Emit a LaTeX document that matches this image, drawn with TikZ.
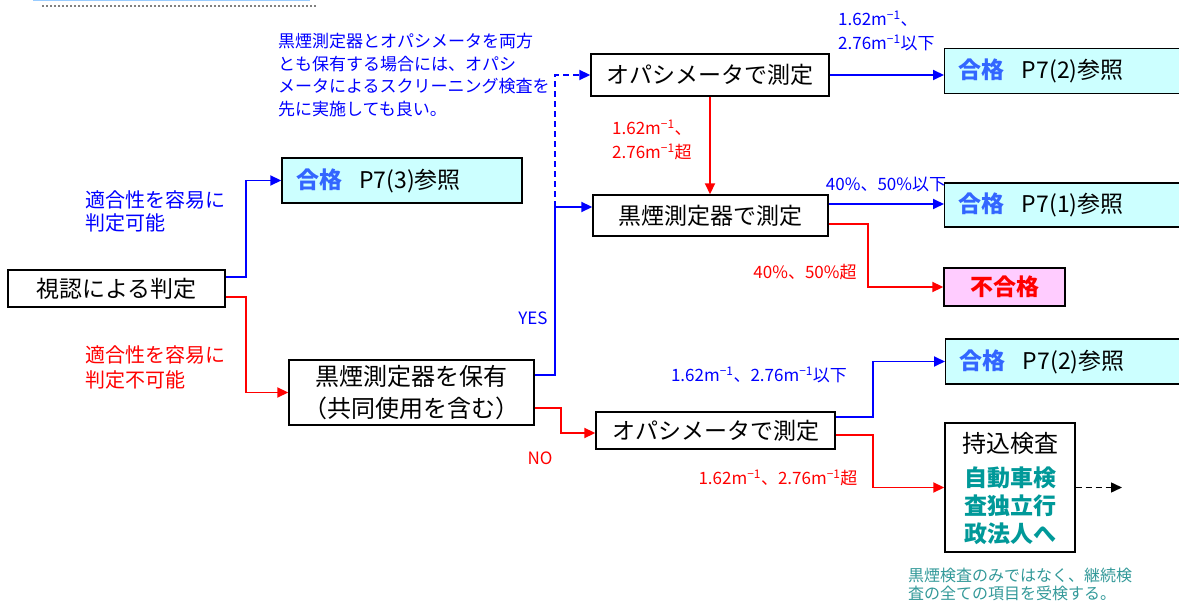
\documentclass[tikz,border=0pt]{standalone}
\usepackage{fontspec}
\setmainfont{Noto Sans CJK JP}
\usetikzlibrary{arrows.meta,calc}
\definecolor{lineblue}{RGB}{0,0,255}
\definecolor{linered}{RGB}{255,0,0}
\definecolor{passfill}{RGB}{204,255,255}
\definecolor{failfill}{RGB}{255,204,255}
\definecolor{gokaku}{RGB}{51,102,255}
\definecolor{tealb}{RGB}{0,153,153}
\definecolor{tealn}{RGB}{51,153,153}
\definecolor{topline}{RGB}{153,204,255}
\tikzset{
  box/.style={draw=black, line width=1.4pt, inner sep=0pt, fill=white, font=\fontsize{23}{28}\selectfont},
  pass/.style={box, fill=passfill, align=left, inner xsep=14pt, inner ysep=0pt},
  bl/.style={draw=lineblue, line width=1.8pt},
  rd/.style={draw=linered, line width=1.8pt},
  tip/.style={-{Triangle[length=11pt,width=10pt]}},
  dsh/.style={dash pattern=on 6pt off 4pt},
  lblb/.style={text=lineblue, font=\fontsize{17}{24}\selectfont, inner sep=0pt},
  lblr/.style={text=linered, font=\fontsize{17}{24}\selectfont, inner sep=0pt},
}
\begin{document}
\begin{tikzpicture}[x=1pt,y=-1pt]
\useasboundingbox (0,0) rectangle (1179,601);
% top artefacts
\draw[topline, line width=2pt] (33,0.5) -- (310,0.5);
\draw[gray, line width=1.5pt, dash pattern=on 1.5pt off 2.5pt] (42,6) -- (318,6);

% nodes
\node[box, minimum width=217pt, minimum height=37pt] (vis) at (116.5,288.5) {視認による判定};
\node[pass, text width=212pt, minimum height=45pt] (p73) at (402,180.5) {\textcolor{gokaku}{\bfseries 合格}\hspace{0.75em}P7(3)参照};
\node[box, minimum width=238pt, minimum height=42pt] (opa1) at (710,75) {オパシメータで測定};
\node[pass, text width=213pt, minimum height=45pt, anchor=west] (p72a) at (944,71) {\textcolor{gokaku}{\bfseries 合格}\hspace{0.75em}P7(2)参照};
\node[box, minimum width=235pt, minimum height=41pt] (smk) at (710.5,215.5) {黒煙測定器で測定};
\node[pass, text width=213pt, minimum height=44pt, anchor=west] (p71) at (944,205) {\textcolor{gokaku}{\bfseries 合格}\hspace{0.75em}P7(1)参照};
\node[box, fill=failfill, minimum width=121pt, minimum height=38pt, font=\fontsize{23}{28}\selectfont\bfseries, text=linered] (fail) at (1004.5,287) {不合格};
\node[box, minimum width=245pt, minimum height=65pt, align=center, font=\fontsize{24}{32}\selectfont] (own) at (411.5,392.5) {黒煙測定器を保有\\（共同使用を含む）};
\node[box, minimum width=239pt, minimum height=37pt] (opa2) at (715.5,430.5) {オパシメータで測定};
\node[pass, text width=213pt, minimum height=45pt, anchor=west] (p72b) at (945,361.5) {\textcolor{gokaku}{\bfseries 合格}\hspace{0.75em}P7(2)参照};
\node[box, minimum width=130pt, minimum height=129pt] (carry) at (1010,487.5) {};
\node[font=\fontsize{24}{28}\selectfont, inner sep=0pt] (carryt) at (1010,443) {持込検査};
\node[font=\fontsize{23}{28}\selectfont\bfseries, text=tealb, align=center, inner sep=0pt] (carryb) at (1010,506) {自動車検\\査独立行\\政法人へ};
\coordinate (endc) at (1122,487.5);
\coordinate (yesj) at (555,207);

% texts
\node[text=lineblue, font=\fontsize{17}{22.5}\selectfont, align=left, anchor=north west, inner sep=0pt] (note) at (278,33) {黒煙測定器とオパシメータを両方\\とも保有する場合には、オパシ\\メータによるスクリーニング検査を\\先に実施しても良い。};
\node[text=lineblue, font=\fontsize{20}{23}\selectfont, align=left, anchor=west, inner sep=0pt] (okl) at (85,211.5) {適合性を容易に\\判定可能};
\node[text=linered, font=\fontsize{20}{25}\selectfont, align=left, anchor=west, inner sep=0pt] (ngl) at (85,367.5) {適合性を容易に\\判定不可能};
\node[lblb, align=left, anchor=west] (l1) at (838,31) {1.62m\textsuperscript{−1}、\\2.76m\textsuperscript{−1}以下};
\node[lblr, align=left, anchor=west] (l2) at (612,140) {1.62m\textsuperscript{−1}、\\2.76m\textsuperscript{−1}超};
\node[lblb] (l3) at (886,185) {40\%、50\%以下};
\node[lblr] (l4) at (805,272) {40\%、50\%超};
\node[lblb] (l5) at (759,375) {1.62m\textsuperscript{−1}、2.76m\textsuperscript{−1}以下};
\node[lblr] (l6) at (778,478) {1.62m\textsuperscript{−1}、2.76m\textsuperscript{−1}超};
\node[lblb] (yes) at (533,318) {YES};
\node[lblr] (no) at (540,458) {NO};
\node[text=tealn, font=\fontsize{16}{18}\selectfont, align=left, anchor=west, inner sep=0pt] (bnote) at (908,584) {黒煙検査のみではなく、継続検\\査の全ての項目を受検する。};

% connectors
\draw[bl, tip] ([yshift=11.5pt]vis.east) -- ++(20,0) |- (p73.west);
\draw[rd, tip] ([yshift=-8.5pt]vis.east) -- ++(20,0) |- (own.west);
\draw[bl] ([yshift=17.5pt]own.east) -| (yesj);
\draw[bl, tip] (yesj) -- (yesj -| smk.west);
\draw[bl, dsh, tip] (yesj) |- (opa1.west);
\draw[rd, tip] ([yshift=-15.5pt]own.east) -- ++(26,0) |- ([yshift=-2.5pt]opa2.west);
\draw[bl, tip] (opa1.east) -- (opa1.east -| p72a.west);
\draw[rd, tip] (opa1.south) -- (opa1.south |- smk.north);
\draw[bl, tip] ([yshift=11.5pt]smk.east) -- ([yshift=11.5pt]smk.east -| p71.west);
\draw[rd, tip] ([yshift=-8.5pt]smk.east) -- ++(39,0) |- (fail.west);
\draw[bl, tip] ([yshift=13.5pt]opa2.east) -- ++(37,0) |- (p72b.west);
\draw[rd, tip] ([yshift=-4.5pt]opa2.east) -- ++(37,0) |- (carry.west);
\draw[black, line width=1.5pt, dsh, tip] (carry.east) -- (endc);
\end{tikzpicture}
\end{document}
